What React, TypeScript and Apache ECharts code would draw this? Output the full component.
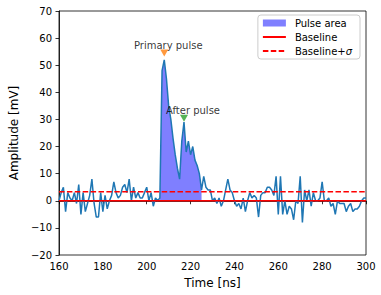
import React, { useEffect, useRef } from "react";
import * as echarts from "echarts";

// Sampling of the trace
const timeStartNs = 160;
const timeStepNs = 1;

// Amplitude samples [mV], one per ns from 160 to 300
const amplitudeMv = [
  0, 3, 5, -4, 3, 1, 0, 3, -1, 6,
  -5, 3, -4, -1, 2, 8, -1, -6, -6, 3,
  -4, 2, -3, 0, 2, 7, 3, 1, 2, 5,
  6, 3, 8, 0, 5, 1, 3, 1, 1, 3,
  5, 0, 3, -2, 1, 0, 1, 48, 52, 45,
  35, 30, 23, 17, 12, 8, 22, 29, 18, 22,
  17, 20, 15, 13, 10, 4, 9, 5, 4, 4,
  0, 1, -1, 1, -2, 0, 4, 8, 4, 3,
  0, -2, -1, -3, 1, -4, 0, 3, 1, 2,
  1, -6, 2, 3, 3, 5, 5, 4, 2, 9,
  -5, 9, -5, 0, -5, -2, -3, -7, 0, -1,
  9, -8, 4, 0, 4, -2, 3, 0, 0, 1,
  7, 0, 0, 1, -2, -1, -5, 0, -1, -1,
  -1, -4, -2, -1, -4, -3, -3, -2, 0, 1,
  1,
];

const baselineMv = 0;
const sigmaMv = 3.3;
const pulseStartNs = 206;
const pulseEndNs = 225;

const markerTimesNs = [208, 217];
const markerAmpsMv = [54.5, 30.4];
const markerLabels = ["Primary pulse", "After pulse"];
const markerColors = ["#ff7f0e", "#2ca02c"];
const markerLabelOffsets = [
  [4, -8],
  [9, -8],
];

const xMin = 160, xMax = 300, xStep = 20;
const yMin = -20, yMax = 70, yStep = 10;

const FONT = "DejaVu Sans";

export default function App() {
  const ref = useRef<HTMLDivElement>(null);
  useEffect(() => {
    if (!ref.current) return;
    const chart = echarts.init(ref.current, null, { renderer: "svg" });
    const signal = amplitudeMv.map((v, i) => [timeStartNs + i * timeStepNs, v]);
    const pulse = signal.filter((p) => p[0] >= pulseStartNs && p[0] <= pulseEndNs);

    chart.setOption({
      animation: false,
      textStyle: { fontFamily: FONT },
      grid: {
        left: 51, right: 15, top: 11, bottom: 40,
        show: true, borderColor: "#000", borderWidth: 0.8,
        backgroundColor: "transparent",
      },
      legend: {
        orient: "vertical",
        right: 21,
        top: 15,
        itemWidth: 23,
        itemHeight: 7,
        itemGap: 4,
        padding: [3, 8, 3, 4],
        borderColor: "#cccccc",
        borderWidth: 1,
        borderRadius: 3,
        backgroundColor: "rgba(255,255,255,0.8)",
        textStyle: {
          fontFamily: FONT, fontSize: 10, color: "#000", padding: [0, 0, 0, 4],
          rich: {
            a: { fontFamily: FONT, fontSize: 10, color: "#000" },
            s: { fontFamily: FONT, fontSize: 10, color: "#000", fontStyle: "italic" },
          },
        },
        formatter: (name: string) =>
          name === "Baseline+σ" ? "{a|Baseline+}{s|σ}" : name,
        data: [
          { name: "Pulse area", icon: "rect", itemStyle: { color: "rgba(0,0,255,0.5)" } },
          { name: "Baseline", itemStyle: { opacity: 0 } },
          { name: "Baseline+σ", itemStyle: { opacity: 0 } },
        ],
      },
      xAxis: {
        type: "value",
        min: xMin, max: xMax, interval: xStep,
        name: "Time [ns]",
        nameLocation: "middle",
        nameGap: 22,
        nameTextStyle: { fontFamily: FONT, fontSize: 12, color: "#000" },
        axisLine: { show: true, lineStyle: { color: "#000", width: 0.8 } },
        axisTick: { show: true, length: 3.5, lineStyle: { color: "#000", width: 0.8 } },
        axisLabel: { fontFamily: FONT, fontSize: 10, color: "#000", margin: 6 },
        splitLine: { show: false },
      },
      yAxis: {
        type: "value",
        min: yMin, max: yMax, interval: yStep,
        name: "Amplitude [mV]",
        nameLocation: "middle",
        nameGap: 35,
        nameTextStyle: { fontFamily: FONT, fontSize: 12, color: "#000" },
        axisLine: { show: true, lineStyle: { color: "#000", width: 0.8 } },
        axisTick: { show: true, length: 3.5, lineStyle: { color: "#000", width: 0.8 } },
        axisLabel: {
          fontFamily: FONT, fontSize: 10, color: "#000", margin: 7,
          formatter: (v: number) => (v < 0 ? "\u2212" + Math.abs(v) : String(v)),
        },
        splitLine: { show: false },
      },
      series: [
        {
          name: "Pulse area",
          type: "line",
          data: pulse,
          symbol: "none",
          lineStyle: { width: 0, opacity: 0 },
          itemStyle: { color: "rgba(0,0,255,0.5)" },
          areaStyle: { color: "rgba(0,0,255,0.5)", origin: baselineMv, opacity: 1 },
          z: 1,
        },
        {
          name: "Signal",
          type: "line",
          data: signal,
          symbol: "none",
          lineStyle: { color: "#1f77b4", width: 1.5 },
          itemStyle: { color: "#1f77b4" },
          z: 2,
        },
        {
          name: "Baseline",
          type: "line",
          data: [[xMin, baselineMv], [xMax, baselineMv]],
          symbol: "none",
          lineStyle: { color: "#ff0000", width: 1.5 },
          itemStyle: { color: "#ff0000" },
          z: 3,
        },
        {
          name: "Baseline+σ",
          type: "line",
          data: [[xMin, baselineMv + sigmaMv], [xMax, baselineMv + sigmaMv]],
          symbol: "none",
          lineStyle: { color: "#ff0000", width: 1.5, type: [5.5, 2.4] },
          itemStyle: { color: "#ff0000" },
          z: 3,
        },
        {
          name: "Markers",
          type: "scatter",
          symbol: "triangle",
          symbolRotate: 180,
          symbolSize: [8, 7],
          z: 5,
          data: markerTimesNs.map((t, i) => ({
            value: [t, markerAmpsMv[i]],
            itemStyle: { color: markerColors[i] },
            label: {
              show: true,
              position: "inside",
              offset: markerLabelOffsets[i],
              formatter: markerLabels[i],
              fontFamily: FONT,
              fontSize: 10,
              color: "#000",
              textBorderWidth: 0,
            },
          })),
        },
      ],
    });
    return () => chart.dispose();
  }, []);
  return (
    <div
      ref={ref}
      style={{ position: "fixed", left: 0, top: 0, width: 381, height: 295, background: "#fff" }}
    />
  );
}
